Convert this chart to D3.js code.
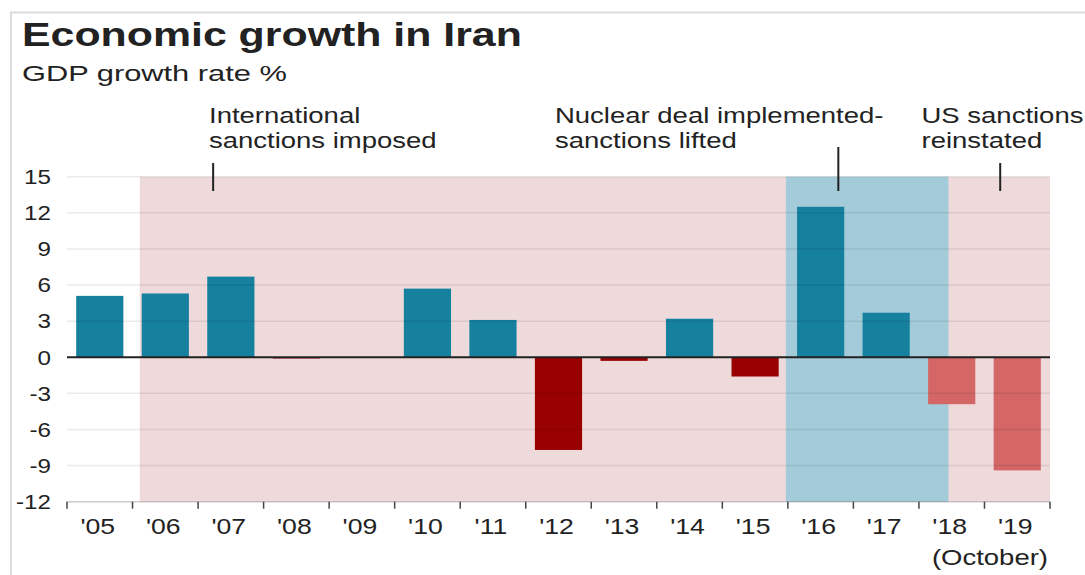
<!DOCTYPE html>
<html>
<head>
<meta charset="utf-8">
<script src="https://cdn.jsdelivr.net/npm/d3@7"></script>
<style>
  html, body { margin: 0; padding: 0; background: #fff; }
  svg { display: block; font-family: "Liberation Sans", Arial, Helvetica, sans-serif; }
</style>
</head>
<body>
<svg id="chart" width="1085" height="575"></svg>
<script>
// Iran GDP growth rate, annual %
const years = ["'05", "'06", "'07", "'08", "'09", "'10", "'11", "'12", "'13", "'14", "'15", "'16", "'17", "'18", "'19"];
const growth = [5.1, 5.3, 6.7, -0.1, 0, 5.7, 3.1, -7.7, -0.3, 3.2, -1.6, 12.5, 3.7, -3.9, -9.4];
// '18 and '19 are estimates/forecasts (lighter red)
const estimated = [false, false, false, false, false, false, false, false, false, false, false, false, false, true, true];
const yTicks = [-12, -9, -6, -3, 0, 3, 6, 9, 12, 15];

// Policy periods, as fractional year positions (index 0 = 2005)
const periods = [
  { name: "sanctions", from: 1.11, to: 15, fill: "#eed9db" },
  { name: "deal", from: 10.97, to: 13.45, fill: "#a3cbd9" }
];
const events = [
  { lines: ["International", "sanctions imposed"], at: 2.23, textX: 209, y0: 163 },
  { lines: ["Nuclear deal implemented-", "sanctions lifted"], at: 11.77, textX: 555, y0: 147 },
  { lines: ["US sanctions", "reinstated"], at: 14.24, textX: 921.5, y0: 163 }
];

const svg = d3.select("#chart");

const plotLeft = 67, plotRight = 1050, plotTop = 176.7, plotBottom = 501.7;

const x = d3.scaleBand().domain(years).range([plotLeft, plotRight])
  .paddingInner(0.28).paddingOuter(0.14);
const step = x.step();
const xPos = d3.scaleLinear().domain([0, years.length]).range([plotLeft, plotRight]);
const y = d3.scaleLinear().domain([-12, 15]).range([plotBottom, plotTop]);

// widen a text horizontally about its anchor point
function widen(sel, factor) {
  sel.each(function () {
    const t = d3.select(this);
    const ax = +t.attr("x");
    t.attr("transform", `translate(${ax},0) scale(${factor},1) translate(${-ax},0)`);
  });
}
// widen a left-anchored text so it spans a given width
function spanTo(sel, width) {
  const w = sel.node().getComputedTextLength();
  widen(sel, width / w);
}

// frame
svg.append("path")
  .attr("d", `M11,575 V12.5 H1085`)
  .attr("fill", "none").attr("stroke", "#dcdcdc").attr("stroke-width", 2);

// title + subtitle
const title = svg.append("text").attr("x", 22).attr("y", 46)
  .attr("font-size", 33).attr("font-weight", "bold").attr("fill", "#222")
  .text("Economic growth in Iran");
spanTo(title, 500);
const subtitle = svg.append("text").attr("x", 22).attr("y", 81)
  .attr("font-size", 22).attr("fill", "#222")
  .text("GDP growth rate %");
spanTo(subtitle, 265);

// shaded periods
svg.append("g").selectAll("rect").data(periods).join("rect")
  .attr("x", d => xPos(d.from))
  .attr("width", d => xPos(d.to) - xPos(d.from))
  .attr("y", y(15)).attr("height", y(-12) - y(15))
  .attr("fill", d => d.fill);

// bars
svg.append("g").selectAll("rect").data(years).join("rect")
  .attr("x", d => x(d))
  .attr("width", x.bandwidth())
  .attr("y", (d, i) => y(Math.max(0, growth[i])))
  .attr("height", (d, i) => Math.abs(y(growth[i]) - y(0)))
  .attr("fill", (d, i) => growth[i] >= 0 ? "#16809f" : (estimated[i] ? "#d46666" : "#990000"));

// y gridlines and labels
const yAxis = svg.append("g");
yAxis.selectAll("line").data(yTicks.filter(t => t !== 0)).join("line")
  .attr("x1", plotLeft).attr("x2", plotRight)
  .attr("y1", d => y(d)).attr("y2", d => y(d))
  .attr("stroke", "rgba(0,0,0,0.08)").attr("stroke-width", 1.5);
yAxis.selectAll("text").data(yTicks).join("text")
  .attr("x", 51).attr("y", d => y(d) + 7.3)
  .attr("text-anchor", "end").attr("font-size", 20.5).attr("fill", "#222")
  .text(d => d)
  .call(widen, 1.18);

// zero line
svg.append("line")
  .attr("x1", plotLeft).attr("x2", plotRight).attr("y1", y(0)).attr("y2", y(0))
  .attr("stroke", "#222").attr("stroke-width", 2);

// x axis: baseline, boundary ticks, labels
const xAxis = svg.append("g");
xAxis.append("line").attr("x1", plotLeft).attr("x2", plotRight)
  .attr("y1", plotBottom).attr("y2", plotBottom)
  .attr("stroke", "rgba(0,0,0,0.12)").attr("stroke-width", 1.5);
xAxis.selectAll("line.tick").data(d3.range(years.length + 1)).join("line")
  .attr("class", "tick")
  .attr("x1", i => plotLeft + i * step).attr("x2", i => plotLeft + i * step)
  .attr("y1", plotBottom).attr("y2", plotBottom + 7)
  .attr("stroke", "#444").attr("stroke-width", 1.5);
xAxis.selectAll("text").data(years).join("text")
  .attr("x", d => x(d) + x.bandwidth() / 2 - 2).attr("y", 534)
  .attr("text-anchor", "middle").attr("font-size", 22).attr("fill", "#222")
  .text(d => d)
  .call(widen, 1.21);
svg.append("text").attr("x", 1048).attr("y", 565)
  .attr("text-anchor", "end").attr("font-size", 22).attr("fill", "#222")
  .text("(October)")
  .call(widen, 1.25);

// event annotations
const ev = svg.append("g").selectAll("g").data(events).join("g");
ev.append("line")
  .attr("x1", d => xPos(d.at)).attr("x2", d => xPos(d.at))
  .attr("y1", d => d.y0).attr("y2", 191)
  .attr("stroke", "#222").attr("stroke-width", 2);
ev.each(function (d) {
  const g = d3.select(this);
  d.lines.forEach((l, i) => {
    g.append("text")
      .attr("x", d.textX).attr("y", 123.5 + i * 25)
      .attr("font-size", 22).attr("fill", "#222")
      .text(l)
      .call(widen, 1.25);
  });
});
</script>
</body>
</html>
